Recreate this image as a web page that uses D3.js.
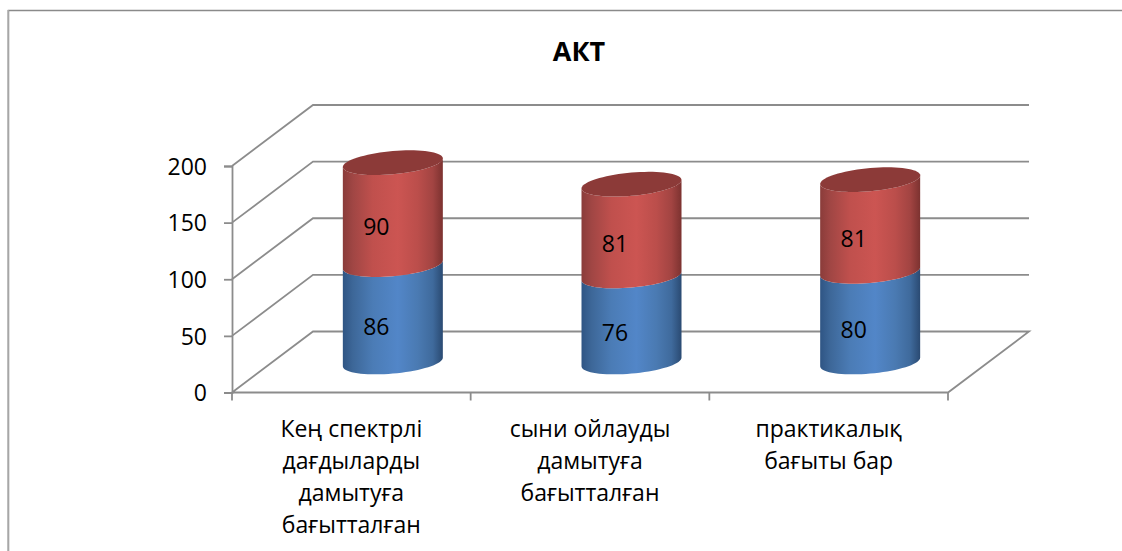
<!DOCTYPE html>
<html><head><meta charset="utf-8">
<script src="https://cdn.jsdelivr.net/npm/d3@7"></script>
<style>
html,body{margin:0;padding:0;background:#fff;overflow:hidden}
svg{display:block}
text{font-family:"Open Sans",Lato,sans-serif;fill:#000}
</style></head><body>
<svg id="c" width="1122" height="551"></svg>
<script>
const categories = [
  ["Кең спектрлі","дағдыларды","дамытуға","бағытталған"],
  ["сыни ойлауды","дамытуға","бағытталған"],
  ["практикалық","бағыты бар"]
];
const seriesBlue = [86, 76, 80];
const seriesRed = [90, 81, 81];
const yTicks = [0, 50, 100, 150, 200];
const titleText = "АКТ";

const svg = d3.select("#c");
const gridColor = "#8c8c8c";
const depth = {x: 81, y: -61};
const x = d3.scaleBand().domain(d3.range(categories.length)).range([232, 948]);
const y = d3.scaleLinear().domain([0, 200]).range([392.5, 166]);
const rx = 50, ry = 11.6, tilt = 4.3;

// gradients
const defs = svg.append("defs");
function grad(id, stops){
  const g = defs.append("linearGradient").attr("id", id).attr("x1","0").attr("x2","1").attr("y1","0").attr("y2","0");
  stops.forEach(([o,c]) => g.append("stop").attr("offset", o).attr("stop-color", c));
}
grad("blue", [[0,"#2f5584"],[.1,"#3d6798"],[.3,"#4b7cb6"],[.55,"#5286c8"],[.75,"#4a7ab2"],[.9,"#3f6a9c"],[1,"#2a4a72"]]);
grad("red", [[0,"#8a3c3a"],[.1,"#a04644"],[.3,"#c0504d"],[.55,"#cc5552"],[.75,"#bb4e4b"],[.9,"#a24442"],[1,"#7c3230"]]);

// frame
svg.append("path").attr("d","M1122,10.5H8.5V551").attr("fill","none").attr("stroke","#8a8a8a").attr("stroke-width",1.5);
svg.append("line").attr("x1",8).attr("x2",8).attr("y1",10).attr("y2",551).attr("stroke","#b0b0b0").attr("stroke-width",1.5);

// walls and gridlines
const grid = svg.append("g").attr("fill","none").attr("stroke",gridColor).attr("stroke-width",1.8);
yTicks.forEach(t => {
  const [x0, x1] = x.range();
  const p = d3.path();
  p.moveTo(x0, y(t));
  p.lineTo(x0 + depth.x, y(t) + depth.y);
  p.lineTo(x1 + depth.x, y(t) + depth.y);
  if (t === 0) { p.lineTo(x1, y(t)); p.lineTo(x0, y(t)); }
  grid.append("path").attr("d", p.toString());
});

// axes
const yAxis = d3.axisLeft(y).tickValues(yTicks).tickSize(8).tickPadding(17);
const gy = svg.append("g").attr("transform","translate(232,0)").call(yAxis);
gy.selectAll("path,line").attr("stroke",gridColor).attr("stroke-width",1.8);
gy.selectAll("text").attr("font-size",23).attr("font-family","Open Sans").attr("dy","0.36em");
const edges = d3.range(categories.length + 1).map(i => x.range()[0] + i * x.step());
svg.append("g").selectAll("line").data(edges).join("line")
  .attr("x1",d=>d).attr("x2",d=>d).attr("y1",y(0)).attr("y2",y(0)+8)
  .attr("stroke",gridColor).attr("stroke-width",1.8);

// cylinders
function ellipsePt(cx, cy, t){ return [cx + rx*Math.cos(t), cy + ry*Math.sin(t) - tilt*Math.cos(t)]; }
const lineGen = d3.line();
function side(cx, yTop, yBot){
  const pts = [];
  d3.range(0, 181, 5).forEach(a => pts.push(ellipsePt(cx, yBot, a*Math.PI/180)));
  d3.range(180, -1, -5).forEach(a => pts.push(ellipsePt(cx, yTop, a*Math.PI/180)));
  return lineGen(pts) + "Z";
}
function cap(cx, cy){
  return lineGen(d3.range(0, 360, 5).map(a => ellipsePt(cx, cy, a*Math.PI/180))) + "Z";
}
const bars = svg.append("g");
categories.forEach((c, i) => {
  const cx = x(i) + x.bandwidth()/2 + depth.x/2 + 1;
  const yb = v => y(v) + depth.y/2;
  const b = seriesBlue[i], r = seriesRed[i];
  bars.append("path").attr("d", side(cx, yb(b), yb(0))).attr("fill","url(#blue)");
  bars.append("path").attr("d", side(cx, yb(b+r), yb(b))).attr("fill","url(#red)");
  bars.append("path").attr("d", cap(cx, yb(b+r))).attr("fill","#8c3a38");
});

// data labels
const labels = svg.append("g").attr("text-anchor","middle").attr("font-size",23);
categories.forEach((c, i) => {
  const lx = x(i) + x.bandwidth()/2 + 25;
  labels.append("text").attr("x",lx).attr("y",y(seriesBlue[i]/2)-17).attr("dy","0.36em").text(seriesBlue[i]);
  labels.append("text").attr("x",lx).attr("y",y(seriesBlue[i]+seriesRed[i]/2)-17).attr("dy","0.36em").text(seriesRed[i]);
});

// category labels
const cat = svg.append("g").attr("text-anchor","middle").attr("font-size",23);
categories.forEach((lines, i) => {
  const cx = x(i) + x.bandwidth()/2;
  lines.forEach((l, j) => cat.append("text").attr("x",cx).attr("y",y(0) + 44.5 + j*32).text(l));
});

// title
svg.append("text").attr("x",579).attr("y",61).attr("text-anchor","middle")
  .attr("font-size",27).attr("font-weight",700).text(titleText);
</script>
</body></html>
